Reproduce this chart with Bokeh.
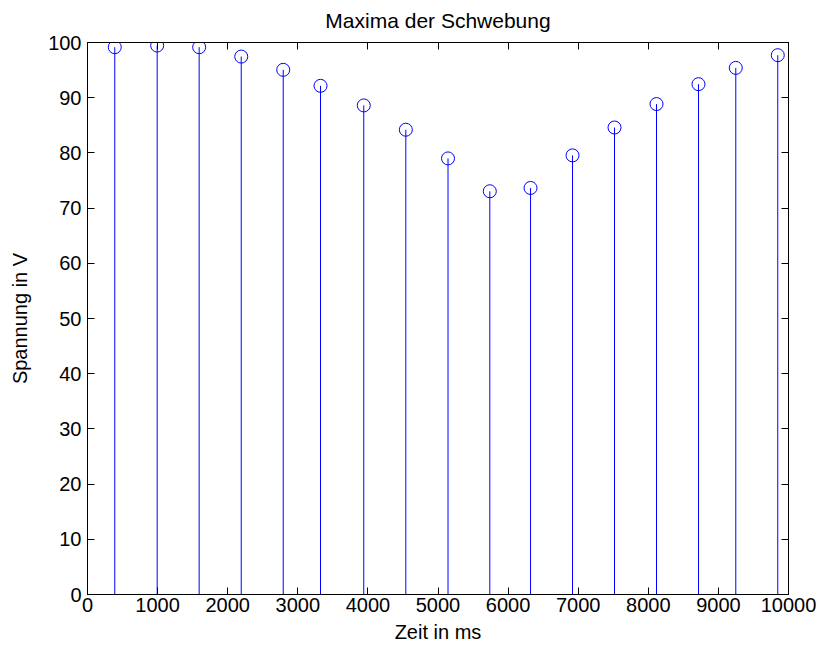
from bokeh.plotting import figure
from bokeh.models import LinearAxis, Range1d, FixedTicker, CustomJSTickFormatter
from bokeh.embed import file_html
from bokeh.resources import INLINE

# Data
zeit_ms = [389, 994, 1593, 2193, 2792, 3324, 3941, 4541, 5143, 5739,
           6320, 6919, 7518, 8117, 8716, 9248, 9847]
spannung_v = [99.15, 99.45, 99.15, 97.45, 95.05, 92.15, 88.6, 84.2, 79.0, 73.05,
              73.65, 79.55, 84.6, 88.85, 92.45, 95.4, 97.7]
x_ticks = list(range(0, 10001, 1000))
y_ticks = list(range(0, 101, 10))

FONT = "Liberation Sans"
FS = "20px"

p = figure(width=819, height=649, output_backend="svg", toolbar_location=None,
           x_range=Range1d(0, 10000), y_range=Range1d(0, 100),
           title="Maxima der Schwebung",
           min_border_left=87, min_border_right=31, min_border_top=42, min_border_bottom=55)

p.title.align = "center"
p.title.vertical_align = "top"
p.title.text_font = FONT
p.title.text_font_size = "21px"
p.title.text_font_style = "normal"
p.title.text_color = "black"
p.title.standoff = 17

p.xgrid.visible = False
p.ygrid.visible = False
p.outline_line_color = "black"
p.outline_line_width = 1
p.outline_line_alpha = 1.0
p.background_fill_color = "white"
p.border_fill_color = "white"

def style_axis(ax, labels=True):
    ax.major_tick_in = 7
    ax.major_tick_out = 0
    ax.minor_tick_in = 0
    ax.minor_tick_out = 0
    ax.axis_line_color = "black"
    ax.major_tick_line_color = "black"
    ax.major_label_text_font = FONT
    ax.major_label_text_font_size = FS
    ax.major_label_text_color = "black"
    ax.axis_label_text_font = FONT
    ax.axis_label_text_font_size = FS
    ax.axis_label_text_font_style = "normal"
    ax.axis_label_text_color = "black"
    if not labels:
        ax.formatter = CustomJSTickFormatter(code="return ''")
        ax.major_label_standoff = 0

xa = p.xaxis[0]
xa.ticker = FixedTicker(ticks=x_ticks)
xa.axis_label = "Zeit in ms"
style_axis(xa)
xa.major_label_standoff = 3
xa.axis_label_standoff = 6

ya = p.yaxis[0]
ya.ticker = FixedTicker(ticks=y_ticks)
ya.axis_label = "Spannung in V"
style_axis(ya)
ya.major_label_standoff = 6
ya.axis_label_standoff = 14

top = LinearAxis(ticker=FixedTicker(ticks=x_ticks))
style_axis(top, labels=False)
p.add_layout(top, "above")
right = LinearAxis(ticker=FixedTicker(ticks=y_ticks))
style_axis(right, labels=False)
p.add_layout(right, "right")

p.segment(x0=zeit_ms, y0=[0] * len(zeit_ms), x1=zeit_ms, y1=spannung_v,
          line_color="#0000ff", line_width=1)
p.scatter(x=zeit_ms, y=spannung_v, marker="circle", size=13,
          line_color="#0000ff", fill_color=None, line_width=1)

open("out.html", "w").write(file_html(p, INLINE))
